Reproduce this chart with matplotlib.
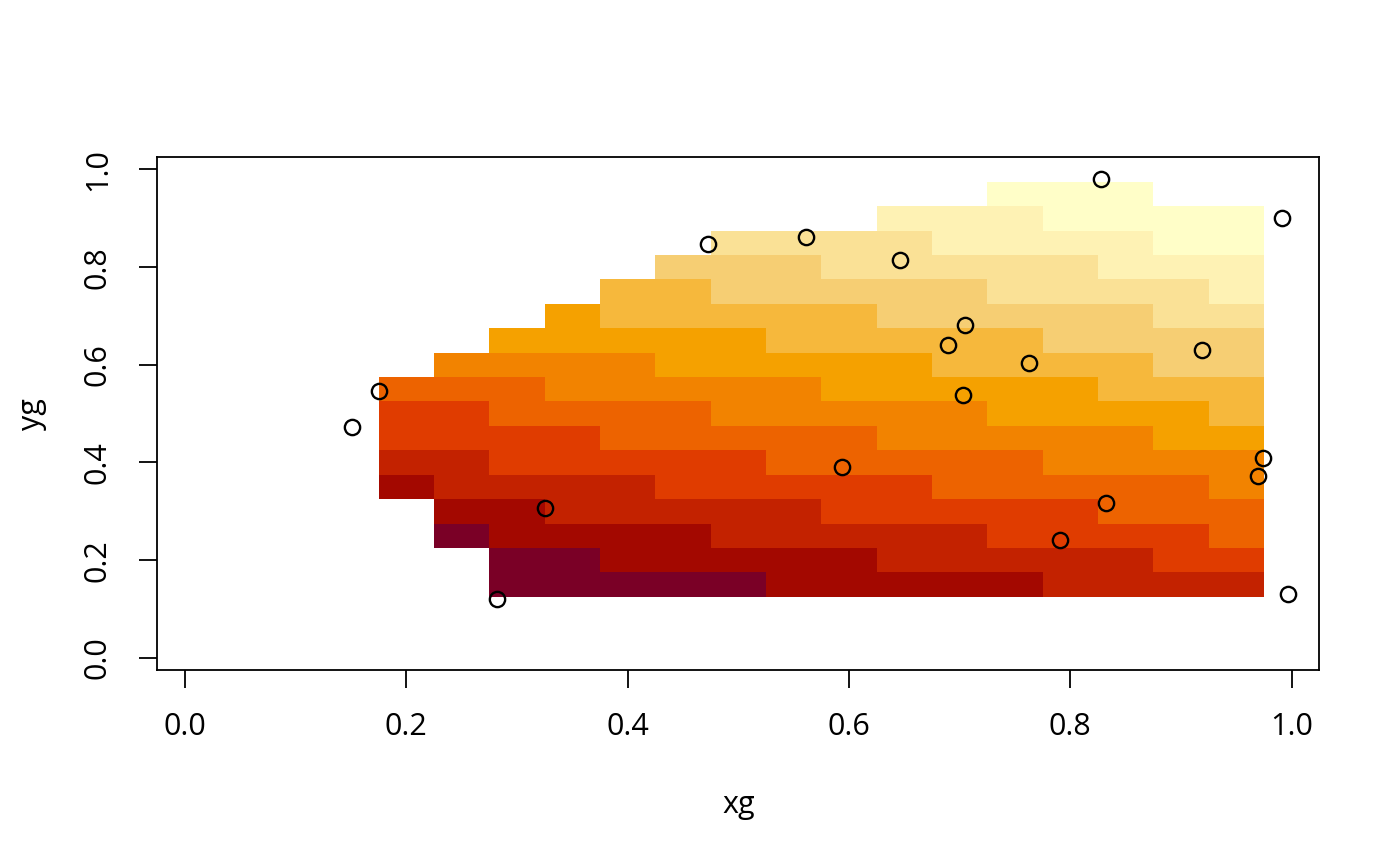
import numpy as np
import matplotlib
matplotlib.use("Agg")
import matplotlib.pyplot as plt
from matplotlib.colors import ListedColormap, BoundaryNorm

plt.rcParams['font.family'] = ['Open Sans', 'DejaVu Sans']

# grid centres (image cells)
xg = [0.2, 0.25, 0.3, 0.35, 0.4, 0.45, 0.5, 0.55, 0.6, 0.65, 0.7, 0.75, 0.8, 0.85, 0.9, 0.95]
yg = [0.15, 0.2, 0.25, 0.3, 0.35, 0.4, 0.45, 0.5, 0.55, 0.6, 0.65, 0.7, 0.75, 0.8, 0.85, 0.9, 0.95]

# colour level of each cell (1 = darkest, 12 = lightest, 0 = no value), rows from y=0.15 upwards
levels = [
    [0, 0, 1, 1, 1, 1, 1, 2, 2, 2, 2, 2, 3, 3, 3, 3],
    [0, 0, 1, 1, 2, 2, 2, 2, 2, 3, 3, 3, 3, 3, 4, 4],
    [0, 1, 2, 2, 2, 2, 3, 3, 3, 3, 3, 4, 4, 4, 4, 5],
    [0, 2, 2, 3, 3, 3, 3, 3, 4, 4, 4, 4, 4, 5, 5, 5],
    [2, 3, 3, 3, 3, 4, 4, 4, 4, 4, 5, 5, 5, 5, 5, 6],
    [3, 3, 4, 4, 4, 4, 4, 5, 5, 5, 5, 5, 6, 6, 6, 6],
    [4, 4, 4, 4, 5, 5, 5, 5, 5, 6, 6, 6, 6, 6, 7, 7],
    [4, 4, 5, 5, 5, 5, 6, 6, 6, 6, 6, 7, 7, 7, 7, 8],
    [5, 5, 5, 6, 6, 6, 6, 6, 7, 7, 7, 7, 7, 8, 8, 8],
    [0, 6, 6, 6, 6, 7, 7, 7, 7, 7, 8, 8, 8, 8, 9, 9],
    [0, 0, 7, 7, 7, 7, 7, 8, 8, 8, 8, 8, 9, 9, 9, 9],
    [0, 0, 0, 7, 8, 8, 8, 8, 8, 9, 9, 9, 9, 9, 10, 10],
    [0, 0, 0, 0, 8, 8, 9, 9, 9, 9, 9, 10, 10, 10, 10, 11],
    [0, 0, 0, 0, 0, 9, 9, 9, 10, 10, 10, 10, 10, 11, 11, 11],
    [0, 0, 0, 0, 0, 0, 10, 10, 10, 10, 11, 11, 11, 11, 12, 12],
    [0, 0, 0, 0, 0, 0, 0, 0, 0, 11, 11, 11, 12, 12, 12, 12],
    [0, 0, 0, 0, 0, 0, 0, 0, 0, 0, 0, 12, 12, 12, 0, 0],
]

# observed points
px = [0.151, 0.175, 0.282, 0.325, 0.473, 0.561, 0.594, 0.646, 0.689, 0.705,
      0.703, 0.763, 0.791, 0.828, 0.832, 0.919, 0.991, 0.974, 0.970, 0.997]
py = [0.473, 0.546, 0.121, 0.306, 0.847, 0.862, 0.390, 0.815, 0.641, 0.682,
      0.539, 0.604, 0.242, 0.980, 0.318, 0.631, 0.901, 0.409, 0.372, 0.130]

pal = ['#7A0026', '#A30800', '#C32200', '#E03C00', '#ED6300', '#F28300',
       '#F5A100', '#F6B83C', '#F6CE73', '#FAE196', '#FEF2B4', '#FFFEC8']

z = np.array(levels, dtype=float)
z[z == 0] = np.nan
cmap = ListedColormap(pal)
norm = BoundaryNorm(np.arange(0.5, 13.5, 1), cmap.N)

fig = plt.figure(figsize=(14, 8.66), dpi=100)
ax = fig.add_axes([0.1124, 0.2263, 0.8300, 0.5921])

xe = np.append(np.array(xg) - 0.025, xg[-1] + 0.025)
ye = np.append(np.array(yg) - 0.025, yg[-1] + 0.025)
ax.pcolormesh(xe, ye, z, cmap=cmap, norm=norm, shading='flat')

ax.plot(px, py, linestyle='none', marker='o', markersize=11,
        markerfacecolor='none', markeredgecolor='black', markeredgewidth=1.7)

ax.set_xlim(-0.025, 1.025)
ax.set_ylim(-0.025, 1.025)
ticks = [0.0, 0.2, 0.4, 0.6, 0.8, 1.0]
ax.set_xticks(ticks)
ax.set_yticks(ticks)
ax.set_xticklabels([f'{t:.1f}' for t in ticks])
ax.set_yticklabels([f'{t:.1f}' for t in ticks], rotation=90, va='center')
ax.tick_params(axis='both', direction='out', length=13, width=1.3,
               labelsize=22)
ax.tick_params(axis='x', pad=17)
ax.tick_params(axis='y', pad=19)
for s in ax.spines.values():
    s.set_linewidth(1.3)

ax.set_xlabel('xg', fontsize=22, labelpad=35)
ax.set_ylabel('yg', fontsize=22, labelpad=26)

fig.savefig('out.png', dpi=100)
